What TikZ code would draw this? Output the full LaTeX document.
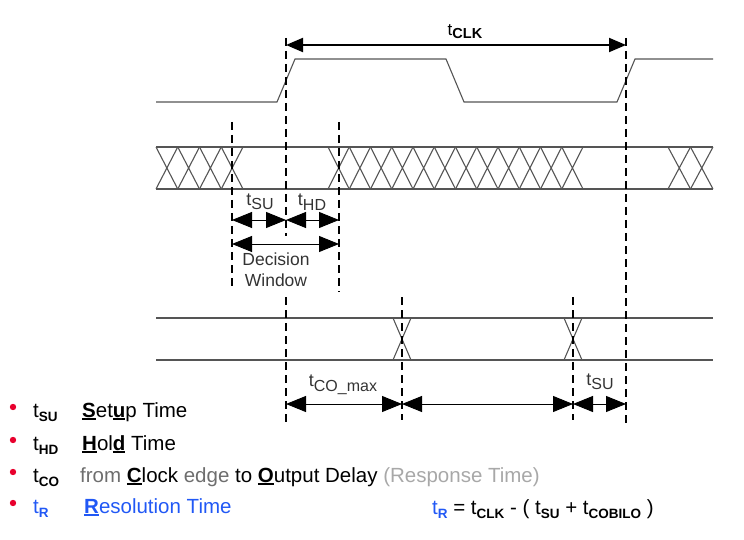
\documentclass[tikz,border=0pt]{standalone}
\usepackage{fontspec}
\setmainfont{Liberation Sans}
\usetikzlibrary{arrows.meta}
\definecolor{sigline}{HTML}{555555}
\definecolor{labelgray}{HTML}{333333}
\definecolor{tblue}{HTML}{2158F5}
\definecolor{bulred}{HTML}{E8002D}
\definecolor{midgray}{HTML}{6E6E6E}
\definecolor{palegray}{HTML}{A8A8A8}
\newcommand\keyltr[1]{\setbox0\hbox{\textbf{#1}}\rlap{\rule[-2.8pt]{\wd0}{1.8pt}}\box0\relax}
\newcommand\lsub[1]{\raisebox{-4.5pt}{\fontsize{13.5}{15}\selectfont\bfseries #1}}
\newcommand\dsub[1]{\raisebox{-4.5pt}{\fontsize{16}{18}\selectfont #1}}
\begin{document}
\begin{tikzpicture}[x=1pt,y=-1pt,
 every node/.style={font=\fontsize{18}{22}\selectfont,inner sep=0pt,text=labelgray},
 sig/.style={sigline,line width=1.1pt},
 guide/.style={black,line width=1.8pt,dash pattern=on 8pt off 5pt},
 dim/.style={{Triangle[length=20pt,width=16pt]}-{Triangle[length=20pt,width=16pt]},line width=0.9pt},
 legend/.style={font=\fontsize{20.5}{24}\selectfont,anchor=base west,text=black}]
 \useasboundingbox (0,0) rectangle (744,540);
 \draw[sig] (156,102) -- (277,102) -- (295,59) -- (446,59) -- (464,102)
  -- (617,102) -- (635,59) -- (713,59);
 \draw[sig] (156,147) -- (713,147) (156,189) -- (713,189);
 \foreach \i in {0,...,3}
  \draw[sig] ({156+21.75*\i},147) -- ({177.75+21.75*\i},189)
   ({156+21.75*\i},189) -- ({177.75+21.75*\i},147);
 \foreach \i in {0,...,11}
  \draw[sig] ({328+21.25*\i},147) -- ({349.25+21.25*\i},189)
   ({328+21.25*\i},189) -- ({349.25+21.25*\i},147);
 \foreach \i in {0,1}
  \draw[sig] ({668+22.5*\i},147) -- ({690.5+22.5*\i},189)
   ({668+22.5*\i},189) -- ({690.5+22.5*\i},147);
 \draw[sig] (156,318) -- (713,318) (156,360) -- (713,360);
 \foreach \c in {402,573}
  \draw[sig] (\c-9,318) -- (\c+9,360) (\c-9,360) -- (\c+9,318);
 \draw[guide] (232,122) -- (232,290);
 \draw[guide] (286,38) -- (286,236) (286,297) -- (286,425);
 \draw[guide] (339,122) -- (339,292);
 \draw[guide] (402,297) -- (402,420);
 \draw[guide] (573,297) -- (573,420);
 \draw[guide] (626,38) -- (626,425);
 \coordinate (clkL) at (286,45); \coordinate (clkR) at (626,45);
 \coordinate (wL) at (232,220); \coordinate (wM) at (286,220);
 \coordinate (wR) at (339,220);
 \coordinate (dL) at (232,244); \coordinate (dR) at (339,244);
 \coordinate (oA) at (286,404); \coordinate (oB) at (402,404);
 \coordinate (oC) at (573,404); \coordinate (oD) at (626,404);
 \draw[{Triangle[length=17pt,width=14pt]}-{Triangle[length=17pt,width=14pt]},line width=2pt]
  (clkL) -- (clkR);
 \draw[dim] (wL) -- (wM); \draw[dim] (wM) -- (wR);
 \draw[dim] (dL) -- (dR);
 \draw[dim] (oA) -- (oB); \draw[dim] (oB) -- (oC); \draw[dim] (oC) -- (oD);
 \node[text=black,font=\fontsize{17}{20}\selectfont] (tclk) at (465,32)
  {t\raisebox{-3pt}{\fontsize{14.5}{16}\selectfont\bfseries CLK}};
 \node (tsu) at (260,202) {t\dsub{SU}};
 \node (thd) at (312,202) {t\dsub{HD}};
 \node[align=center,font=\fontsize{17.5}{21}\selectfont] (dw) at (276,270)
  {Decision\\Window};
 \node (tco) at (343,385) {t\dsub{CO\_max}};
 \node (tsuo) at (600,382) {t\dsub{SU}};
 \foreach \y in {407,440,472,503} \fill[bulred] (13,\y) circle (3.2);
 \node[legend] (sut) at (33,417) {t\lsub{SU}};
 \node[legend] (sux) at (82,417) {\keyltr{S}et\keyltr{u}p Time};
 \node[legend] (hdt) at (33,450) {t\lsub{HD}};
 \node[legend] (hdx) at (82,450) {\keyltr{H}ol\keyltr{d} Time};
 \node[legend] (cot) at (33,482) {t\lsub{CO}};
 \node[legend] (cox) at (80,482) {\textcolor{midgray}{from} \keyltr{C}lock
  \textcolor{midgray}{edge} to \keyltr{O}utput Delay \textcolor{palegray}{(Response Time)}};
 \node[legend,text=tblue] (rt) at (33,513) {t\lsub{R}};
 \node[legend,text=tblue] (rx) at (84,513) {\keyltr{R}esolution Time};
 \node[legend] (eq) at (432,514) {\textcolor{tblue}{t\lsub{R}} = t\lsub{CLK} -
  ( t\lsub{SU} + t\lsub{COBILO} )};
\end{tikzpicture}
\end{document}
